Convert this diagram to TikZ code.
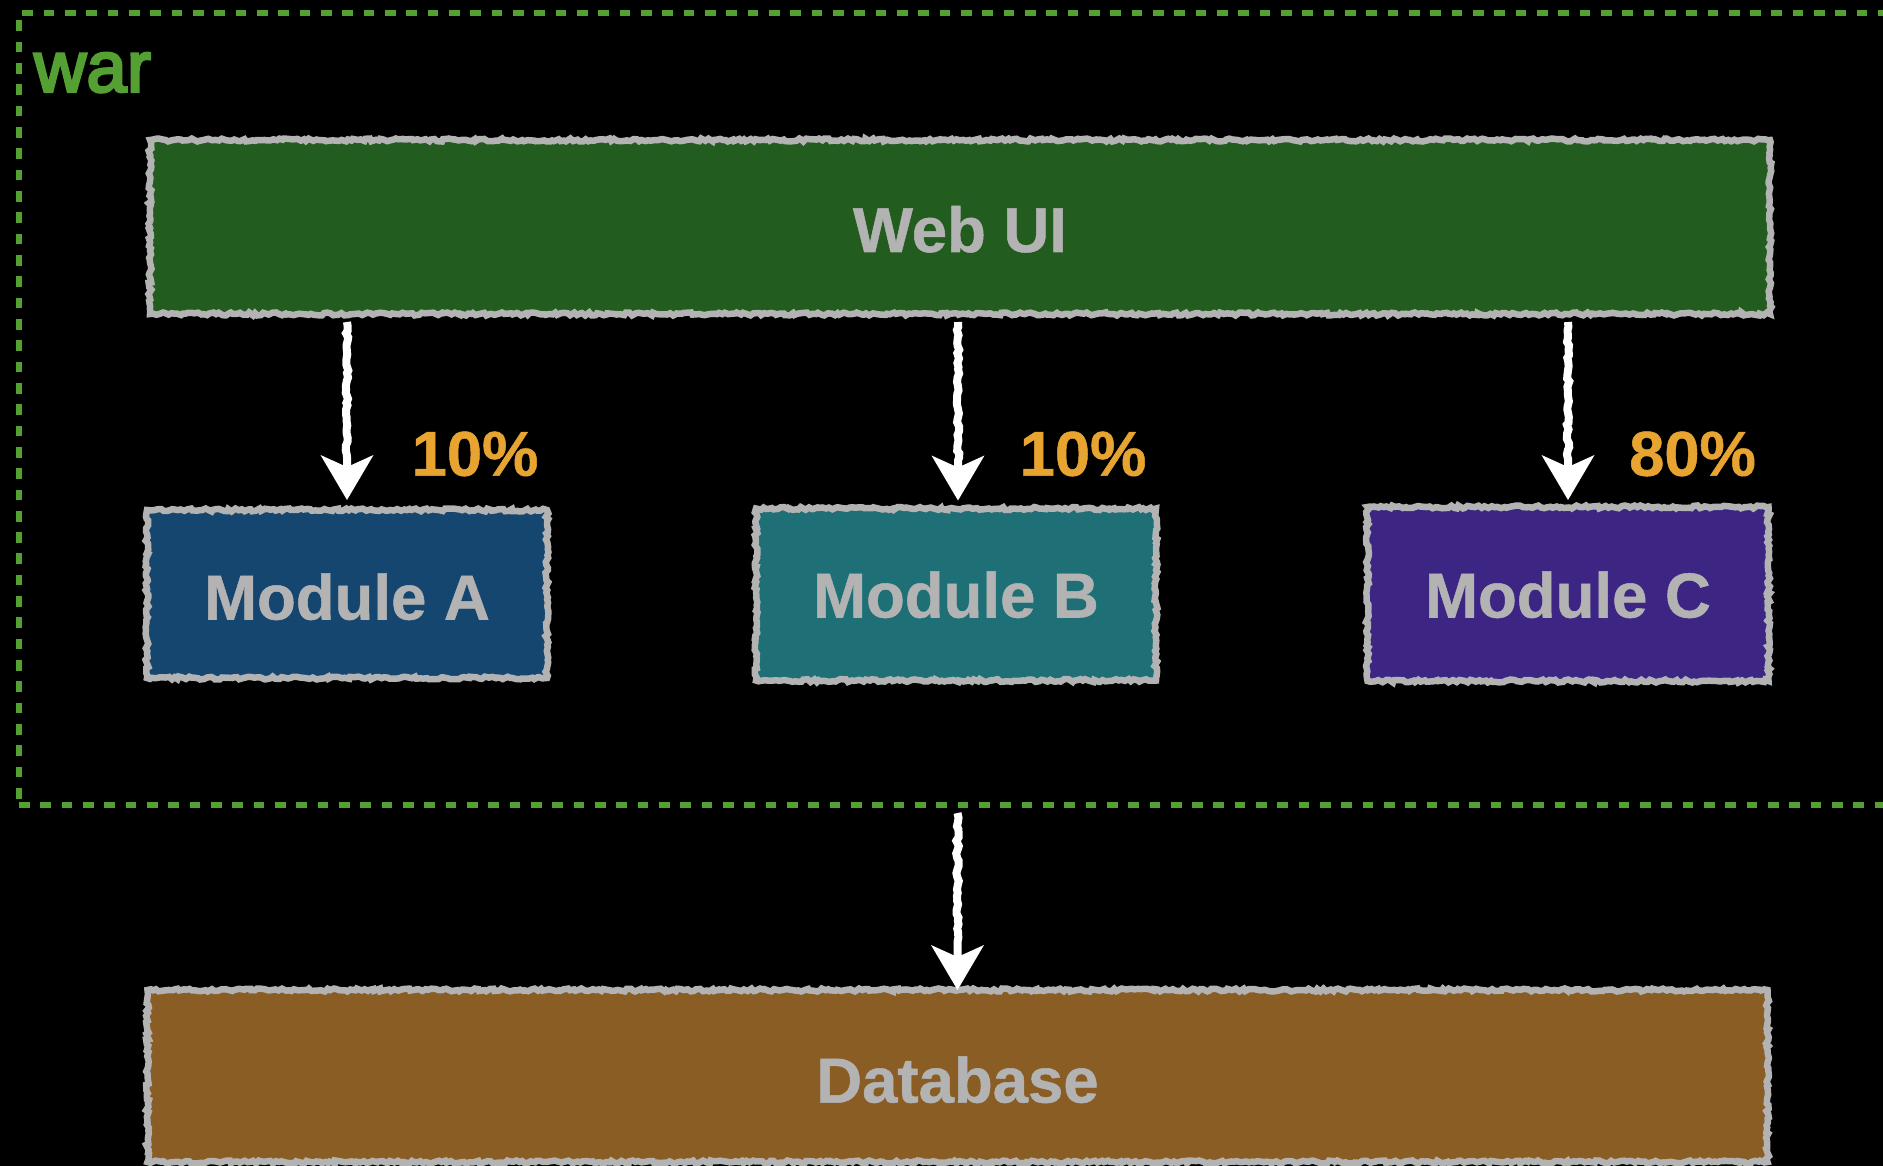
\documentclass[tikz,border=0pt]{standalone}
\usepackage{fontspec}
\setmainfont{Liberation Sans}[BoldFeatures={FakeBold=0.8}]
\newfontfamily\warfont[FakeBold=3.8,LetterSpace=0.6]{Liberation Sans}
\usetikzlibrary{arrows.meta,decorations.pathmorphing}
\definecolor{warcol}{HTML}{55A032}
\definecolor{edgegrey}{HTML}{B3B3B3}
\definecolor{webcol}{HTML}{225C1E}
\definecolor{acol}{HTML}{154670}
\definecolor{bcol}{HTML}{1E7076}
\definecolor{ccol}{HTML}{3D2683}
\definecolor{dbcol}{HTML}{8A5D24}
\definecolor{pctcol}{HTML}{E8A430}
\tikzset{
  sketchbox/.style={draw=edgegrey,line width=6.5pt,rectangle,inner sep=0pt,outer sep=0pt,
    decorate,decoration={random steps,segment length=3pt,amplitude=1.5pt},
    text=edgegrey,font=\bfseries\fontsize{63.5}{70}\selectfont,text depth=0pt},
  warbox/.style={draw=warcol,line width=5.5pt,rectangle,inner sep=0pt,outer sep=0pt,
    dash pattern=on 10.67pt off 10.66pt},
  pct/.style={text=pctcol,font=\bfseries\fontsize{63.3}{70}\selectfont,inner sep=0pt,anchor=base west},
  flow/.style={draw=white,line width=8pt,
    -{Stealth[length=45pt,width=53pt,inset=12pt,line width=0pt,fill=white]},
    decorate,decoration={random steps,segment length=4pt,amplitude=1.3pt,post=lineto,post length=48pt}},
}
\pgfmathsetseed{7}
\begin{document}
\begin{tikzpicture}[x=1pt,y=-1pt]
\path[use as bounding box,fill=black] (0,0) rectangle (1883,1166);
\node[warbox,minimum width=2000pt,minimum height=792pt] (war) at (1019,409) {};
\node[text=warcol,font=\warfont\fontsize{72}{80}\selectfont,inner sep=0pt,anchor=base west] (warlabel) at (34,91.7) {war};
\node[sketchbox,fill=webcol,minimum width=1620pt,minimum height=174pt,text height=50pt] (web) at (960,227) {Web UI};
\node[sketchbox,fill=acol,minimum width=400pt,minimum height=168pt,text height=51pt] (a) at (347,594) {Module A};
\node[sketchbox,fill=bcol,minimum width=400pt,minimum height=172pt,text height=46pt] (b) at (956,594.5) {Module B};
\node[sketchbox,fill=ccol,minimum width=401pt,minimum height=174pt,text height=47pt] (c) at (1568,594) {Module C};
\node[sketchbox,fill=dbcol,minimum width=1620pt,minimum height=172pt,text height=53pt] (db) at (957.5,1076) {Database};
\node[pct] (pa) at (411.5,475.7) {10\%};
\node[pct] (pb) at (1019.5,475.7) {10\%};
\node[pct] (pc) at (1629,475.7) {80\%};
\coordinate (wa) at ([yshift=-8pt]a.north |- web.south);
\coordinate (wb) at ([xshift=2pt,yshift=-8pt]b.north |- web.south);
\coordinate (wc) at ([yshift=-8pt]c.north |- web.south);
\coordinate (tb) at ([xshift=2pt]b.north);
\coordinate (wd) at ([yshift=-8pt]db.north |- war.south);
\draw[flow,shorten >=10pt] (wa) -- (a.north);
\draw[flow,shorten >=8pt] (wb) -- (tb);
\draw[flow,shorten >=7pt] (wc) -- (c.north);
\draw[flow] (wd) -- (db.north);
\end{tikzpicture}
\end{document}
